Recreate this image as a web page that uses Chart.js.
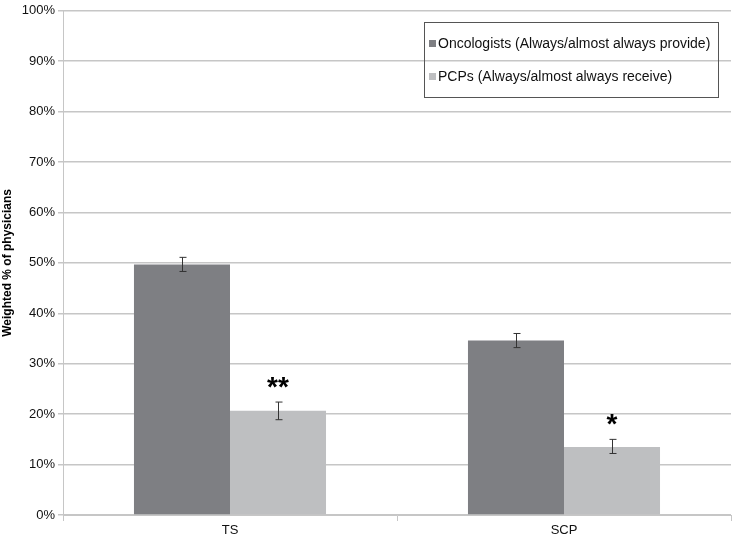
<!DOCTYPE html>
<html>
<head>
<meta charset="utf-8">
<script src="https://cdn.jsdelivr.net/npm/chart.js@4.4.0/dist/chart.umd.min.js"></script>
<style>
  html, body { margin: 0; padding: 0; background: #fff; }
  #wrap { width: 732px; height: 539px; }
</style>
</head>
<body>
<div id="wrap"><canvas id="chart"></canvas></div>
<script>
// categories + series
const categories = ['TS', 'SCP'];
const oncologists = [49.7, 34.6];
const oncLow = [48.3, 33.2];
const oncHigh = [51.1, 36.0];
const pcps = [20.7, 13.5];
const pcpLow = [18.9, 12.2];
const pcpHigh = [22.4, 15.0];
const pcpSig = ['**', '*'];
const yTicks = [0, 10, 20, 30, 40, 50, 60, 70, 80, 90, 100];

const FONT = '"Liberation Sans", Arial, Helvetica, sans-serif';

// error bars + significance marks
const errorBars = {
  id: 'errorBars',
  afterDatasetsDraw(chart) {
    const ctx = chart.ctx;
    const y = chart.scales.y;
    const lows = [oncLow, pcpLow], highs = [oncHigh, pcpHigh];
    ctx.save();
    chart.data.datasets.forEach((ds, di) => {
      const meta = chart.getDatasetMeta(di);
      meta.data.forEach((bar, i) => {
        const x = Math.round(bar.x) + 0.5;
        const yl = y.getPixelForValue(lows[di][i]);
        const yh = y.getPixelForValue(highs[di][i]);
        ctx.strokeStyle = '#333';
        ctx.lineWidth = 1;
        ctx.beginPath();
        ctx.moveTo(x, yl); ctx.lineTo(x, yh);
        ctx.moveTo(x - 3, yl); ctx.lineTo(x + 4, yl);
        ctx.moveTo(x - 3, yh); ctx.lineTo(x + 4, yh);
        ctx.stroke();
        if (di === 1) {
          ctx.fillStyle = '#000';
          ctx.font = 'bold 28px ' + FONT;
          ctx.textAlign = 'center';
          ctx.textBaseline = 'alphabetic';
          ctx.fillText(pcpSig[i], bar.x, yh - 6);
        }
      });
    });
    ctx.restore();
  }
};

// boxed legend in the top right
const boxLegend = {
  id: 'boxLegend',
  afterDraw(chart) {
    const ctx = chart.ctx;
    ctx.save();
    ctx.strokeStyle = '#555';
    ctx.lineWidth = 1;
    ctx.strokeRect(424.5, 22.5, 294, 75);
    ctx.font = '14px ' + FONT;
    ctx.textBaseline = 'middle';
    ctx.textAlign = 'left';
    chart.data.datasets.forEach((ds, i) => {
      const yy = 44 + i * 33;
      ctx.fillStyle = ds.backgroundColor;
      ctx.fillRect(429, yy - 4, 7, 7);
      ctx.fillStyle = '#111';
      ctx.fillText(ds.label, 438, yy);
    });
    ctx.restore();
  }
};

new Chart(document.getElementById('chart'), {
  type: 'bar',
  data: {
    labels: categories,
    datasets: [
      { label: 'Oncologists (Always/almost always provide)', data: oncologists, backgroundColor: '#7e7f83' },
      { label: 'PCPs (Always/almost always receive)', data: pcps, backgroundColor: '#bebfc1' }
    ]
  },
  options: {
    responsive: true,
    maintainAspectRatio: false,
    animation: false,
    layout: { padding: { top: 2, right: 1, bottom: 0, left: 0 } },
    datasets: { bar: { categoryPercentage: 0.575, barPercentage: 1.0 } },
    plugins: { legend: { display: false }, tooltip: { enabled: false } },
    scales: {
      x: {
        grid: { drawOnChartArea: false, color: '#c6c6c6', tickLength: 6, offset: true },
        border: { color: '#c6c6c6' },
        ticks: { color: '#111', font: { family: FONT, size: 13 }, padding: 2 },
        afterFit: s => { s.height = 24; }
      },
      y: {
        min: 0, max: 100,
        afterBuildTicks: s => { s.ticks = yTicks.map(v => ({ value: v })); },
        grid: { color: '#c6c6c6', lineWidth: 1.5, tickLength: 5 },
        border: { color: '#c6c6c6' },
        ticks: { color: '#111', font: { family: FONT, size: 13 }, padding: 3, callback: v => v + '%' },
        title: { display: true, text: 'Weighted % of physicians', color: '#000', font: { family: FONT, size: 12, weight: 'bold' }, padding: 0 },
        afterFit: s => { s.width = 63; }
      }
    }
  },
  plugins: [errorBars, boxLegend]
});
</script>
</body>
</html>
